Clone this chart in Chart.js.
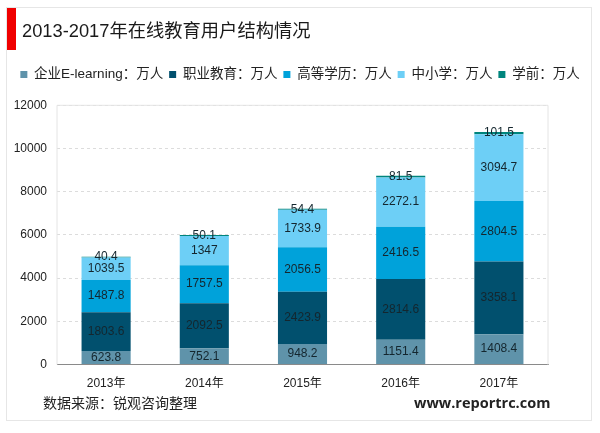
<!DOCTYPE html>
<html>
<head>
<meta charset="utf-8">
<script src="https://cdn.jsdelivr.net/npm/chart.js@4"></script>
<style>
html, body { margin: 0; padding: 0; background: #fff; }
#wrap { position: relative; width: 600px; height: 433px; overflow: hidden; font-family: "Liberation Sans", "Noto Sans CJK SC", sans-serif; }
#frame { position: absolute; left: 6px; top: 7px; width: 586px; height: 414px; border: 1px solid #e6e6e6; box-sizing: border-box; }
#redbar { position: absolute; left: 7px; top: 8px; width: 9px; height: 42px; background: #f00000; }
#title { position: absolute; left: 22px; top: 16px; font-size: 18.3px; color: #1a1a1a; white-space: nowrap; }
#source { position: absolute; left: 43px; top: 392px; font-size: 14px; color: #222; white-space: nowrap; }
#site { position: absolute; left: 414px; top: 393px; font-size: 14.5px; font-weight: bold; color: #222; font-family: "Open Sans", sans-serif; white-space: nowrap; }
canvas { position: absolute; left: 0; top: 0; }
</style>
</head>
<body>
<div id="wrap">
    <div id="frame"></div>
    <canvas id="chart1" width="600" height="433"></canvas>
    <div id="redbar"></div>
    <div id="title">2013-2017年在线教育用户结构情况</div>
    <div id="source">数据来源：锐观咨询整理</div>
    <div id="site">www.reportrc.com</div>
</div>
<script>
const years = ['2013年', '2014年', '2015年', '2016年', '2017年'];
const elearning = [623.8, 752.1, 948.2, 1151.4, 1408.4];
const vocational = [1803.6, 2092.5, 2423.9, 2814.6, 3358.1];
const higher = [1487.8, 1757.5, 2056.5, 2416.5, 2804.5];
const school = [1039.5, 1347, 1733.9, 2272.1, 3094.7];
const preschool = [40.4, 50.1, 54.4, 81.5, 101.5];

const fontFamily = '"Liberation Sans", "Noto Sans CJK SC", sans-serif';

// writes each value in the middle of its segment
const valueLabels = {
    id: 'valueLabels',
    afterDatasetsDraw(chart) {
        const ctx = chart.ctx;
        ctx.save();
        ctx.font = '12px ' + fontFamily;
        ctx.fillStyle = '#14262e';
        ctx.textAlign = 'center';
        ctx.textBaseline = 'middle';
        chart.data.datasets.forEach((ds, i) => {
            chart.getDatasetMeta(i).data.forEach((bar, j) => {
                const mid = (bar.y + bar.base) / 2;
                ctx.fillText(String(ds.data[j]), bar.x, mid);
            });
        });
        ctx.restore();
    }
};

// light frame on the right and top of the plot
const plotFrame = {
    id: 'plotFrame',
    beforeDatasetsDraw(chart) {
        const a = chart.chartArea;
        const ctx = chart.ctx;
        ctx.save();
        ctx.strokeStyle = '#e4e4e4';
        ctx.lineWidth = 1;
        ctx.beginPath();
        ctx.moveTo(a.left, a.bottom);
        ctx.lineTo(a.left, a.top);
        ctx.lineTo(a.right, a.top);
        ctx.lineTo(a.right, a.bottom);
        ctx.stroke();
        ctx.restore();
    }
};

const ctx1 = document.getElementById('chart1').getContext('2d');
new Chart(ctx1, {
    type: 'bar',
    data: {
        labels: years,
        datasets: [
            { label: '企业E-learning：万人', data: elearning, backgroundColor: '#5f93aa' },
            { label: '职业教育：万人', data: vocational, backgroundColor: '#01506e' },
            { label: '高等学历：万人', data: higher, backgroundColor: '#00a2da' },
            { label: '中小学：万人', data: school, backgroundColor: '#6dcff6' },
            { label: '学前：万人', data: preschool, backgroundColor: '#00857d' }
        ]
    },
    options: {
        responsive: false,
        animation: false,
        layout: { padding: { left: 0, right: 0, top: 0, bottom: 30 } },
        plugins: {
            tooltip: { enabled: false },
            legend: {
                position: 'top',
                align: 'center',
                labels: {
                    boxWidth: 7,
                    boxHeight: 7,
                    padding: 6,
                    color: '#222',
                    font: { size: 13.5, family: fontFamily }
                }
            },
            title: {
                display: true,
                text: ' ',
                padding: { top: 37, bottom: 8 },
                font: { size: 14 }
            }
        },
        scales: {
            x: {
                stacked: true,
                offset: true,
                grid: { display: false, drawTicks: false },
                border: { color: '#8a8a8a', width: 1 },
                ticks: { color: '#222', padding: 12, font: { size: 12, family: fontFamily } }
            },
            // empty axis, only keeps the gap between legend and plot
            xTop: {
                position: 'top',
                afterFit(scale) { scale.height = 14; },
                grid: { display: false },
                border: { display: false },
                ticks: { display: false }
            },
            y: {
                stacked: true,
                min: 0,
                max: 12000,
                afterFit(scale) { scale.width = 57; },
                grid: { color: '#dcdcdc', drawTicks: false },
                border: { display: false, dash: [3, 3] },
                ticks: {
                    stepSize: 2000,
                    color: '#222',
                    padding: 10,
                    font: { size: 12, family: fontFamily },
                    callback: v => String(v)
                }
            },
            // empty axis, only keeps the margin on the right of the plot
            yRight: {
                position: 'right',
                min: 0,
                max: 12000,
                afterFit(scale) { scale.width = 52; },
                grid: { display: false },
                border: { display: false },
                ticks: { display: false }
            }
        },
        datasets: { bar: { categoryPercentage: 0.5, barPercentage: 1 } }
    },
    plugins: [plotFrame, valueLabels]
});
</script>
</body>
</html>
